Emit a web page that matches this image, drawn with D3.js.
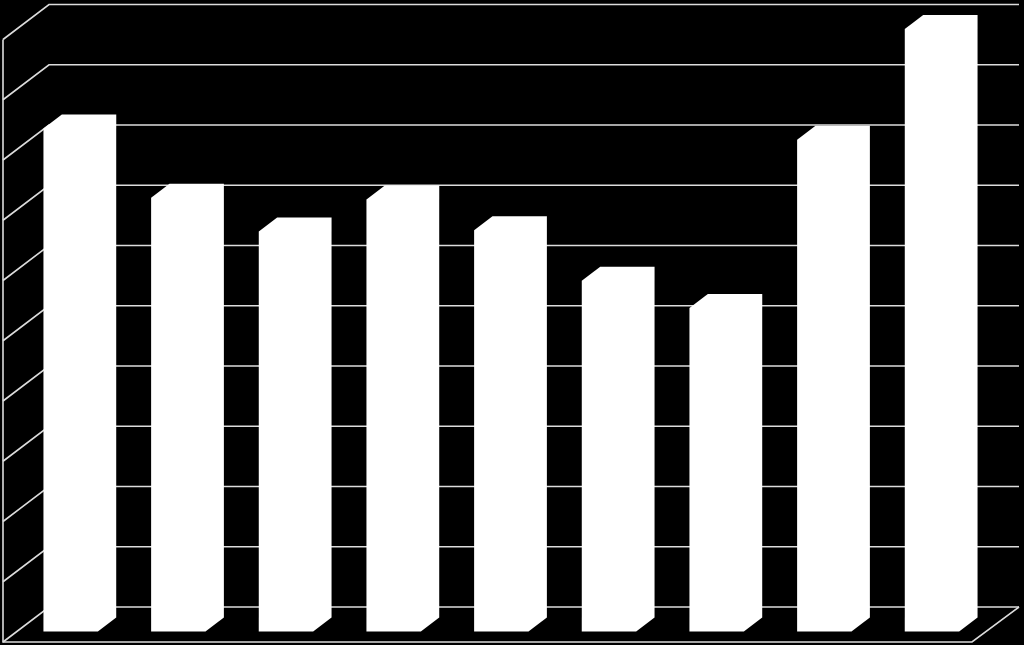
<!DOCTYPE html>
<html>
<head>
<meta charset="utf-8">
<script src="https://cdn.jsdelivr.net/npm/d3@7"></script>
<style>
  html, body { margin: 0; padding: 0; background: #000; overflow: hidden; }
  svg { display: block; }
</style>
</head>
<body>
<div id="chart"></div>
<script>
// values, no labels are shown in the original
const categories = [1, 2, 3, 4, 5, 6, 7, 8, 9];
const values = [83.5, 72, 66.4, 71.7, 66.6, 58.2, 53.7, 81.6, 100];
const gridValues = [0, 10, 20, 30, 40, 50, 60, 70, 80, 90, 100];

const width = 1024, height = 645;

// 3d box: front floor edge goes from x 3 to 972 at y 642, back wall is moved by depth
const depthX = 46, depthY = 35;
const barFront = 0.3, barBack = 0.7;

const x = d3.scaleBand().domain(categories).range([3, 972])
  .paddingInner(0.495).paddingOuter(0.2475);
const y = d3.scaleLinear().domain([0, 100]).range([607, 4.5]);

const svg = d3.select("#chart").append("svg")
  .attr("width", width)
  .attr("height", height);

svg.append("rect")
  .attr("width", width)
  .attr("height", height)
  .attr("fill", "#000");

// project a point: category position, value, depth 0 (front) to 1 (back)
const project = (px, v, z) => [px + depthX * z, y(v) + depthY * (1 - z)];
const line = d3.line();

const walls = svg.append("g")
  .attr("fill", "none")
  .attr("stroke", "#dcdcdc")
  .attr("stroke-width", 1.6);

// gridlines on back wall and side wall
walls.selectAll("path.grid")
  .data(gridValues)
  .join("path")
  .attr("class", "grid")
  .attr("d", d => line([project(3, d, 0), project(3, d, 1), project(973, d, 1)]));

// left edge and floor
walls.append("path")
  .attr("d", line([project(3, 100, 0), project(3, 0, 0), project(972, 0, 0), project(973, 0, 1)]));

// bars are all white, so one outline is enough for the three faces
svg.append("g")
  .selectAll("path")
  .data(categories)
  .join("path")
  .attr("fill", "#fff")
  .attr("d", (c, i) => {
    const x0 = x(c), x1 = x(c) + x.bandwidth(), v = values[i];
    return line([
      project(x0, 0, barFront),
      project(x0, v, barFront),
      project(x0, v, barBack),
      project(x1, v, barBack),
      project(x1, 0, barBack),
      project(x1, 0, barFront)
    ]) + "Z";
  });
</script>
</body>
</html>
